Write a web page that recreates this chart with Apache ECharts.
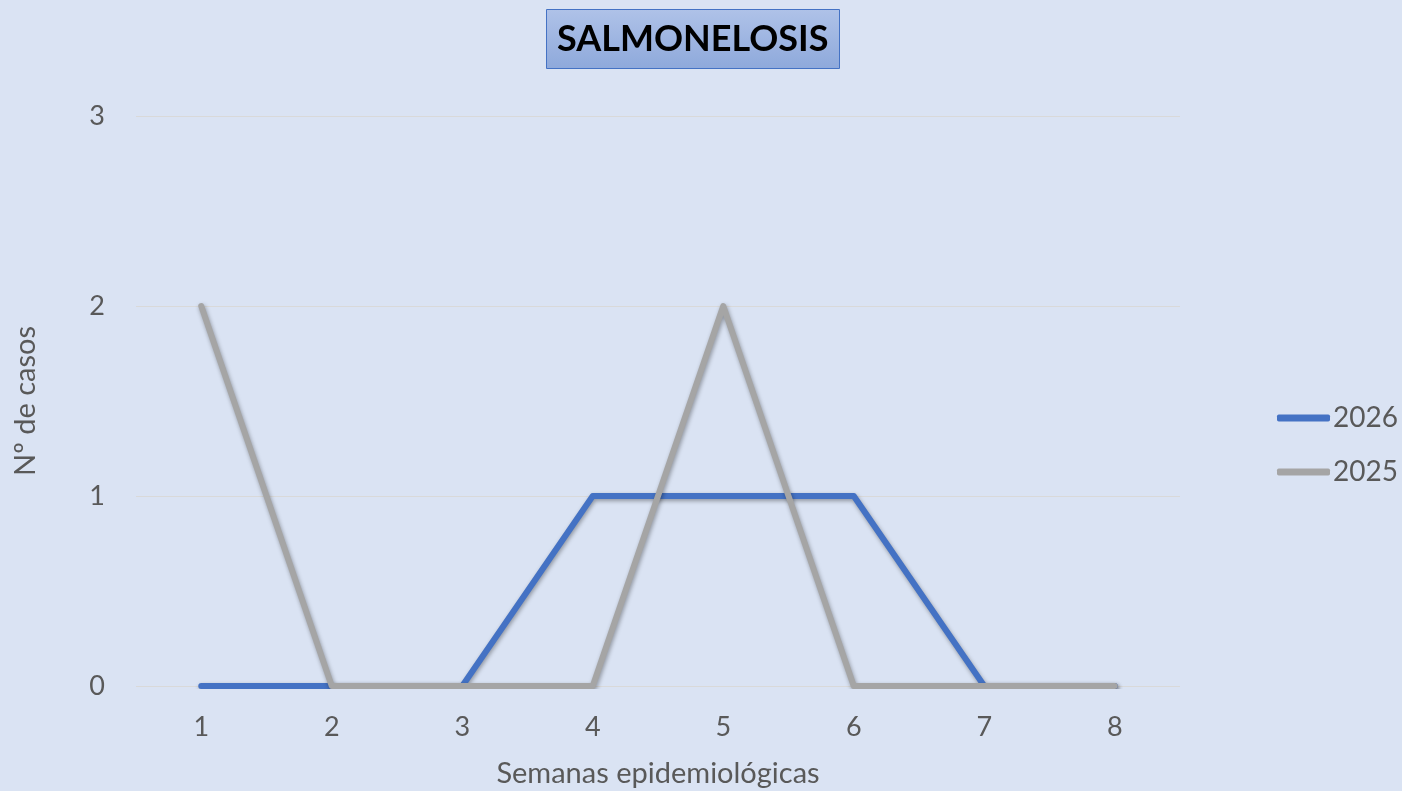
<!DOCTYPE html>
<html>
<head>
<meta charset="utf-8">
<script src="https://cdn.jsdelivr.net/npm/echarts@6/dist/echarts.min.js"></script>
<style>
html,body{margin:0;padding:0;background:#DAE3F3;}
#c{width:1402px;height:791px;}
</style>
</head>
<body>
<div id="c"></div>
<script>
const weeks = ['1','2','3','4','5','6','7','8'];
const cases2026 = [0,0,0,1,1,1,0,0];
const cases2025 = [2,0,0,0,2,0,0,0];
const seriesNames = ['2026','2025'];
const titleText = 'SALMONELOSIS';
const xName = 'Semanas epidemiológicas';
const yName = 'Nº de casos';

const FONT = 'Lato, "Open Sans", sans-serif';
const chart = echarts.init(document.getElementById('c'), null, {renderer:'canvas'});
const lineShadow = {shadowColor:'rgba(0,0,0,0.35)', shadowBlur:4, shadowOffsetX:1, shadowOffsetY:2};
chart.setOption({
  backgroundColor:'#DAE3F3',
  animation:false,
  title:{
    text:titleText,
    left:546, top:9,
    padding:[9,11,9,11],
    borderColor:'#4472C4', borderWidth:1,
    backgroundColor:new echarts.graphic.LinearGradient(0,0,0,1,[{offset:0,color:'#AFC2E8'},{offset:1,color:'#8EA9DB'}]),
    textStyle:{fontFamily:FONT, fontWeight:'bold', fontSize:36, color:'#000', lineHeight:42}
  },
  legend:{
    orient:'vertical', left:1272, top:399,
    itemWidth:53, itemHeight:7, itemGap:26,
    icon:'roundRect',
    textStyle:{fontFamily:FONT, fontSize:28, color:'#595959', padding:[0,0,0,-2], lineHeight:28},
    data:seriesNames
  },
  grid:{left:136, right:222, top:116, bottom:105, containLabel:false, outerBoundsMode:'none'},
  xAxis:{
    type:'category', data:weeks, boundaryGap:true,
    name:xName, nameLocation:'middle', nameGap:73,
    nameTextStyle:{fontFamily:FONT, fontSize:29, color:'#595959'},
    axisLine:{show:false}, axisTick:{show:false},
    axisLabel:{fontFamily:FONT, fontSize:27, color:'#595959', margin:28}
  },
  yAxis:{
    type:'value', min:0, max:3, interval:1,
    name:yName, nameLocation:'middle', nameGap:96,
    nameTextStyle:{fontFamily:FONT, fontSize:29, color:'#595959'},
    axisLine:{show:false}, axisTick:{show:false},
    axisLabel:{fontFamily:FONT, fontSize:27, color:'#595959', margin:31},
    splitLine:{lineStyle:{color:'#D9D9D9', width:1}}
  },
  series:[
    {name:seriesNames[0], type:'line', data:cases2026, symbol:'none',
     itemStyle:{color:'#4472C4'},
     lineStyle:Object.assign({color:'#4472C4', width:6, cap:'round', join:'round'}, lineShadow)},
    {name:seriesNames[1], type:'line', data:cases2025, symbol:'none',
     itemStyle:{color:'#A5A5A5'},
     lineStyle:Object.assign({color:'#A5A5A5', width:6, cap:'round', join:'round'}, lineShadow)}
  ]
});
</script>
</body>
</html>
